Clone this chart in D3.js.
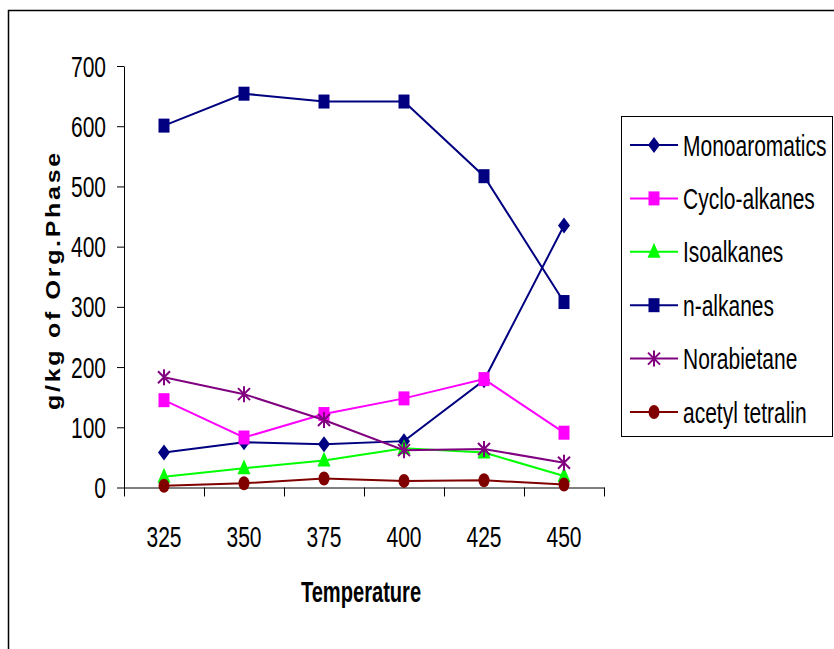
<!DOCTYPE html>
<html>
<head>
<meta charset="utf-8">
<script src="https://cdn.jsdelivr.net/npm/d3@7"></script>
<style>
  body { margin: 0; background: #fff; }
  svg { display: block; }
  text { font-family: "Liberation Sans", Arial, sans-serif; fill: #000; }
</style>
</head>
<body>
<div class="chart"></div>
<script>
//data
var temperatures = ["325", "350", "375", "400", "425", "450"];
var seriesNames = ["Monoaromatics", "Cyclo-alkanes", "Isoalkanes", "n-alkanes", "Norabietane", "acetyl tetralin"];
var monoaromatics = [58, 75, 72, 77, 178, 435];
var cycloAlkanes = [145, 83, 122, 148, 180, 91];
var isoalkanes = [18, 32, 45, 65, 58, 19];
var nAlkanes = [601, 654, 641, 641, 517, 308];
var norabietane = [183, 155, 112, 62, 64, 41];
var acetylTetralin = [3, 7, 15, 11, 12, 5];
var yTicks = [0, 100, 200, 300, 400, 500, 600, 700];

var seriesColors = ["#000080", "#FF00FF", "#00FF00", "#000080", "#800080", "#800000"];
var seriesMarkers = ["diamond", "square", "triangle", "square", "star", "circle"];
var seriesValues = [monoaromatics, cycloAlkanes, isoalkanes, nAlkanes, norabietane, acetylTetralin];

//global sizes
var width = 834,
    height = 649,
    sx = 0.70; // horizontal squeeze of the text

var svg = d3.select(".chart").append("svg")
            .attr("width", width)
            .attr("height", height);

//outer frame (runs off the right and bottom)
svg.append("rect")
   .attr("x", 8.5).attr("y", 10.5)
   .attr("width", 900).attr("height", 700)
   .attr("fill", "none")
   .attr("stroke", "#000")
   .attr("stroke-width", 1.5);

//scales
var xScale = d3.scaleLinear().domain([0, temperatures.length]).range([124, 604]);
var yScale = d3.scaleLinear().domain([0, 700]).range([487.5, 66]);

//x axis: ticks on the category boundaries
var xAxis = d3.axisBottom(xScale)
              .tickValues(d3.range(0, temperatures.length + 1))
              .tickFormat("")
              .tickSize(9)
              .tickSizeOuter(0);
var xAxisGroup = svg.append("g")
                    .attr("transform", "translate(0," + yScale(0) + ")")
                    .call(xAxis);

//y axis
var yAxis = d3.axisLeft(yScale)
              .tickValues(yTicks)
              .tickFormat("")
              .tickSize(7)
              .tickSizeOuter(0);
var yAxisGroup = svg.append("g")
                    .attr("transform", "translate(124,0)")
                    .call(yAxis);

svg.selectAll(".domain, .tick line").attr("stroke", "#000").attr("stroke-width", 1);

//tick labels
svg.selectAll(".ylab")
   .data(yTicks)
   .enter().append("text")
   .attr("class", "ylab")
   .attr("transform", function(d) { return "translate(106," + (yScale(d) + 10.5) + ") scale(" + sx + ",1)"; })
   .attr("text-anchor", "end")
   .style("font-size", "30px")
   .text(function(d) { return d; });

svg.selectAll(".xlab")
   .data(temperatures)
   .enter().append("text")
   .attr("class", "xlab")
   .attr("transform", function(d, i) { return "translate(" + xScale(i + 0.5) + ",546.5) scale(" + sx + ",1)"; })
   .attr("text-anchor", "middle")
   .style("font-size", "30px")
   .text(function(d) { return d; });

//axis titles
svg.append("text")
   .attr("transform", "translate(361,601.5) scale(0.67,1)")
   .attr("text-anchor", "middle")
   .style("font-size", "30px")
   .style("font-weight", "bold")
   .text("Temperature");

svg.append("text")
   .attr("transform", "translate(60,280) scale(0.82,1) rotate(-90)")
   .attr("text-anchor", "middle")
   .style("font-size", "25px")
   .style("font-weight", "bold")
   .style("letter-spacing", "2.7px")
   .text("g/kg of Org.Phase");

//marker drawing
function drawMarker(g, type, color, x, y) {
  if (type === "diamond") {
    g.append("path").attr("d", "M" + x + "," + (y - 8) + "L" + (x + 6) + "," + y + "L" + x + "," + (y + 8) + "L" + (x - 6) + "," + y + "Z")
     .attr("fill", color);
  } else if (type === "square") {
    g.append("rect").attr("x", x - 5.5).attr("y", y - 7).attr("width", 11).attr("height", 14)
     .attr("fill", color);
  } else if (type === "triangle") {
    g.append("path").attr("d", "M" + x + "," + (y - 9) + "L" + (x + 6.5) + "," + (y + 6) + "L" + (x - 6.5) + "," + (y + 6) + "Z")
     .attr("fill", color);
  } else if (type === "circle") {
    g.append("ellipse").attr("cx", x).attr("cy", y).attr("rx", 5.5).attr("ry", 7)
     .attr("fill", color);
  } else if (type === "star") {
    g.append("path").attr("d", "M" + x + "," + (y - 8) + "V" + (y + 8) +
                               "M" + (x - 6) + "," + (y - 6) + "L" + (x + 6) + "," + (y + 6) +
                               "M" + (x + 6) + "," + (y - 6) + "L" + (x - 6) + "," + (y + 6))
     .attr("stroke", color).attr("stroke-width", 2).attr("fill", "none");
  }
}

//lines and markers
var line = d3.line()
             .x(function(d, i) { return xScale(i + 0.5); })
             .y(function(d) { return yScale(d); });

seriesValues.forEach(function(vals, s) {
  var g = svg.append("g");
  g.append("path")
   .attr("d", line(vals))
   .attr("fill", "none")
   .attr("stroke", seriesColors[s])
   .attr("stroke-width", 2);
  vals.forEach(function(v, i) {
    drawMarker(g, seriesMarkers[s], seriesColors[s], xScale(i + 0.5), yScale(v));
  });
});

//legend
var legend = svg.append("g");
legend.append("rect")
      .attr("x", 621.5).attr("y", 116.5)
      .attr("width", 211).attr("height", 320)
      .attr("fill", "#fff")
      .attr("stroke", "#000")
      .attr("stroke-width", 1);

seriesNames.forEach(function(name, s) {
  var y = 145 + s * 53.4;
  legend.append("line")
        .attr("x1", 630).attr("x2", 678)
        .attr("y1", y).attr("y2", y)
        .attr("stroke", seriesColors[s])
        .attr("stroke-width", 2);
  drawMarker(legend, seriesMarkers[s], seriesColors[s], 654, y);
  legend.append("text")
        .attr("transform", "translate(683," + (y + 10.5) + ") scale(" + sx + ",1)")
        .style("font-size", "30px")
        .text(name);
});
</script>
</body>
</html>
